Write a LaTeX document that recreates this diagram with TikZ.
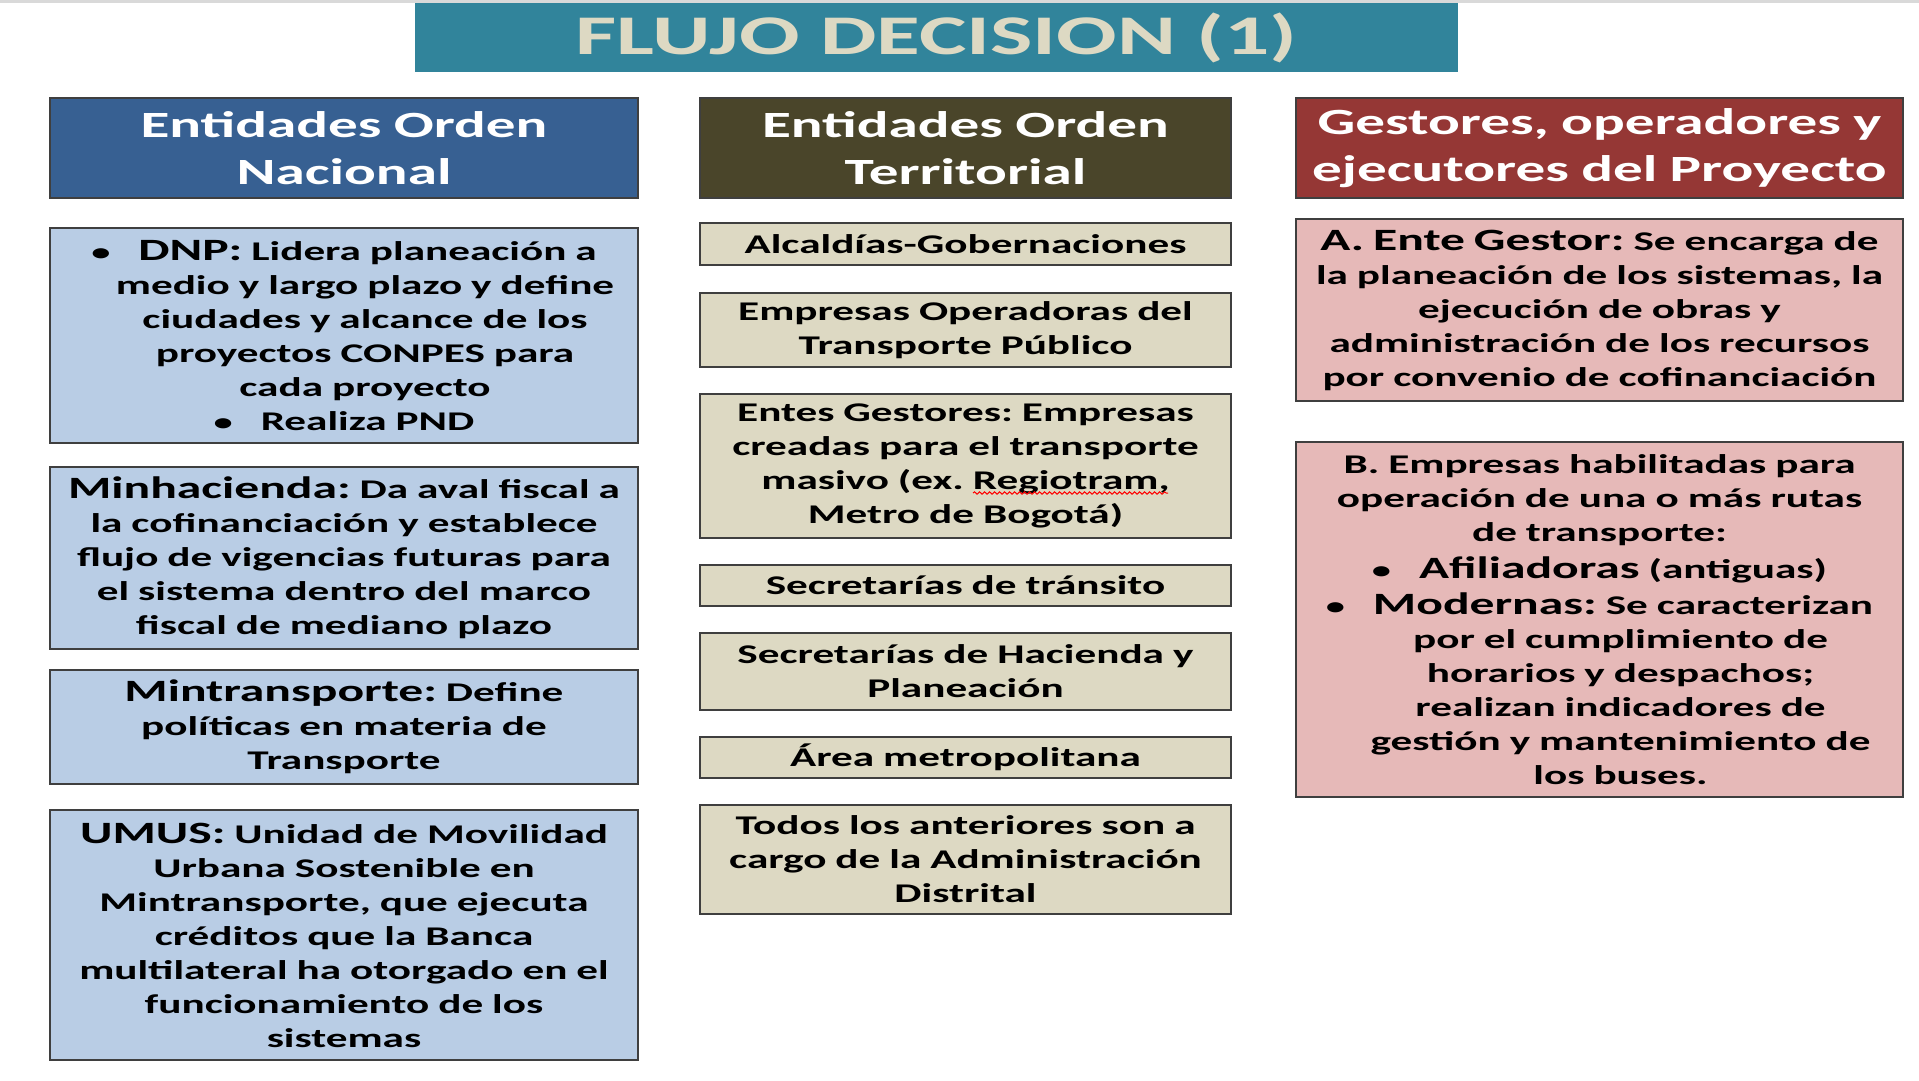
\documentclass[tikz,border=0pt]{standalone}
\usepackage{fontspec}
\setmainfont{Carlito}[FakeStretch=1.6]
\usepackage{tikz}
\usetikzlibrary{decorations.pathmorphing}
\definecolor{titleteal}{HTML}{31849B}
\definecolor{titletext}{HTML}{DDD9C3}
\definecolor{navyhead}{HTML}{376092}
\definecolor{olivehead}{HTML}{4A452A}
\definecolor{redhead}{HTML}{953735}
\definecolor{lightblue}{HTML}{B9CDE5}
\definecolor{tanfill}{HTML}{DDD9C3}
\definecolor{pinkfill}{HTML}{E6B9B8}
\definecolor{boxline}{HTML}{3F3F3F}
\newcommand{\titlesize}{\fontsize{56}{60}\selectfont\bfseries}
\newcommand{\headsize}{\fontsize{37}{47}\selectfont\bfseries}
\newcommand{\bodysize}{\fontsize{27}{34}\selectfont\bfseries\frenchspacing}
\newcommand{\lbl}[1]{{\fontsize{31}{34}\selectfont #1}}
\newcommand{\hang}{\hspace*{42pt}}
\newcommand{\bul}{{\fontsize{24}{24}\selectfont\textbullet}\hspace{28pt}}
\tikzstyle{headbox} = [draw=boxline, line width=2pt, rectangle, anchor=north west,
    inner sep=0pt, minimum height=100pt, align=center, text=white, font=\headsize]
\tikzstyle{infobox} = [draw=boxline, line width=2pt, rectangle, anchor=north west,
    inner sep=0pt, align=center, font=\bodysize]
\tikzstyle{natbox} = [infobox, fill=lightblue, text width=588pt]
\tikzstyle{terbox} = [infobox, fill=tanfill, text width=531pt]
\tikzstyle{gesbox} = [infobox, fill=pinkfill, text width=607pt]

\begin{document}
\begin{tikzpicture}[x=1pt, y=-1pt]
    \useasboundingbox[fill=white] (0,0) rectangle (1919,1080);
    \draw[black!15, line width=3pt] (0,1.5) -- (1919,1.5);
    \node [fill=titleteal, anchor=north west, minimum width=1043pt, minimum height=69pt,
        inner sep=0pt, text=titletext, font=\titlesize] (title) at (415,3) {FLUJO DECISION (1)};
    % encabezados
    \node [headbox, fill=navyhead, text width=588pt] (nacional) at (49,97)
        {Entidades Orden\\Nacional};
    \node [headbox, fill=olivehead, text width=531pt] (territorial) at (699,97)
        {Entidades Orden\\Territorial};
    \node [headbox, fill=redhead, text width=607pt] (gestores) at (1295,97)
        {Gestores, operadores y\\ejecutores del Proyecto};
    % orden nacional
    \node [natbox, minimum height=215pt] (dnp) at (49,227) {%
        \bul\lbl{DNP:} Lidera planeación a\\
        \hang medio y largo plazo y define\\
        \hang ciudades y alcance de los\\
        \hang proyectos CONPES para\\
        \hang cada proyecto\\
        \bul Realiza PND};
    \node [natbox, minimum height=182pt] (minhacienda) at (49,466) {%
        \lbl{Minhacienda:} Da aval fiscal a\\
        la cofinanciación y establece\\
        flujo de vigencias futuras para\\
        el sistema dentro del marco\\
        fiscal de mediano plazo};
    \node [natbox, minimum height=114pt] (mintransporte) at (49,669) {%
        \lbl{Mintransporte:} Define\\
        políticas en materia de\\
        Transporte};
    \node [natbox, minimum height=250pt] (umus) at (49,809) {%
        \lbl{UMUS:} Unidad de Movilidad\\
        Urbana Sostenible en\\
        Mintransporte, que ejecuta\\
        créditos que la Banca\\
        multilateral ha otorgado en el\\
        funcionamiento de los\\
        sistemas};
    % orden territorial
    \node [terbox, minimum height=42pt] (alcaldias) at (699,222) {Alcaldías-Gobernaciones};
    \node [terbox, minimum height=74pt] (operadoras) at (699,292)
        {Empresas Operadoras del\\Transporte Público};
    \node [terbox, minimum height=144pt] (entes) at (699,393) {%
        Entes Gestores: Empresas\\
        creadas para el transporte\\
        masivo (ex. Regiotram,\\
        Metro de Bogotá)};
    \draw[red, line width=1pt, decorate, decoration={snake, segment length=5pt, amplitude=1.2pt}]
        (973,493) -- (1168,493);
    \node [terbox, minimum height=41pt] (transito) at (699,564) {Secretarías de tránsito};
    \node [terbox, minimum height=77pt] (hacienda) at (699,632)
        {Secretarías de Hacienda y\\Planeación};
    \node [terbox, minimum height=41pt] (metropolitana) at (699,736) {Área metropolitana};
    \node [terbox, minimum height=109pt] (distrital) at (699,804) {%
        Todos los anteriores son a\\
        cargo de la Administración\\
        Distrital};
    % gestores, operadores y ejecutores
    \node [gesbox, minimum height=182pt] (entegestor) at (1295,218) {%
        \lbl{A. Ente Gestor:} Se encarga de\\
        la planeación de los sistemas, la\\
        ejecución de obras y\\
        administración de los recursos\\
        por convenio de cofinanciación};
    \node [gesbox, minimum height=355pt] (habilitadas) at (1295,441) {%
        B. Empresas habilitadas para\\
        operación de una o más rutas\\
        de transporte:\\[3pt]
        \bul\lbl{Afiliadoras} (antiguas)\\[2pt]
        \bul\lbl{Modernas:} Se caracterizan\\
        \hang por el cumplimiento de\\
        \hang horarios y despachos;\\
        \hang realizan indicadores de\\
        \hang gestión y mantenimiento de\\
        \hang los buses.};
\end{tikzpicture}
\end{document}
